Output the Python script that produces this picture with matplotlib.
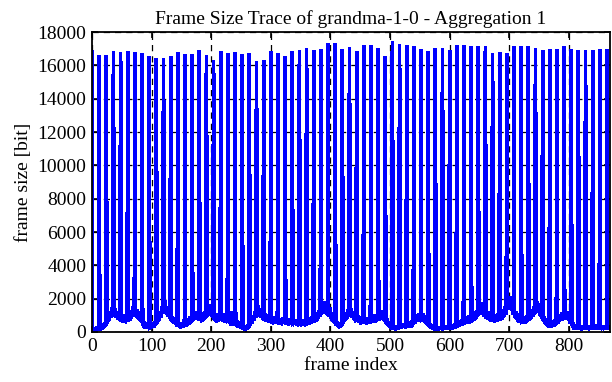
import matplotlib
matplotlib.use("Agg")
import matplotlib.pyplot as plt
import numpy as np

title = "Frame Size Trace of grandma-1-0 - Aggregation 1"
x_label = "frame index"
y_label = "frame size [bit]"
x_ticks = [0, 100, 200, 300, 400, 500, 600, 700, 800]
y_ticks = [0, 2000, 4000, 6000, 8000, 10000, 12000, 14000, 16000, 18000]

# frame sizes in bit, one row per GOP of 12 frames (I B B P B B P B B P B B)
frame_sizes = [
    16820, 150, 130, 260, 140, 120, 240, 150, 160, 280, 170, 190,
    16620, 200, 210, 360, 230, 250, 420, 300, 330, 560, 380, 420,
    16620, 560, 600, 900, 700, 760, 1150, 880, 950, 1450, 1100, 1180,
    16860, 1050, 1000, 1400, 980, 900, 1250, 850, 820, 1180, 800, 760,
    16760, 640, 680, 1000, 620, 700, 1050, 680, 650, 980, 700, 720,
    16860, 700, 740, 1100, 760, 820, 1300, 950, 1000, 1550, 1050, 1100,
    16760, 1000, 950, 1350, 900, 880, 1250, 820, 780, 1100, 700, 650,
    16720, 450, 400, 620, 380, 360, 560, 330, 320, 500, 300, 310,
    16560, 260, 280, 420, 300, 320, 500, 380, 400, 620, 450, 500,
    16420, 550, 600, 950, 700, 780, 1200, 900, 1000, 1550, 1150, 1250,
    16420, 1400, 1350, 1880, 1200, 1100, 1500, 1000, 950, 1300, 880, 850,
    16540, 720, 680, 950, 620, 600, 850, 560, 520, 760, 500, 480,
    16800, 420, 380, 560, 360, 350, 520, 340, 360, 540, 380, 400,
    16680, 420, 460, 680, 500, 540, 800, 580, 620, 900, 640, 680,
    16660, 760, 800, 1150, 820, 860, 1250, 880, 850, 1200, 820, 800,
    16920, 720, 760, 1100, 740, 780, 1150, 800, 840, 1250, 880, 900,
    16620, 950, 1000, 1400, 1050, 1100, 1650, 1150, 1050, 1400, 950, 900,
    16320, 800, 760, 1100, 740, 720, 1050, 700, 720, 1080, 760, 780,
    16860, 700, 740, 1050, 720, 700, 1100, 760, 720, 1000, 680, 700,
    16720, 640, 600, 900, 620, 580, 1250, 640, 600, 860, 560, 540,
    16760, 500, 460, 650, 420, 400, 600, 360, 340, 500, 300, 280,
    16680, 240, 220, 350, 200, 180, 300, 220, 260, 420, 300, 340,
    16720, 420, 480, 750, 560, 620, 950, 700, 780, 1200, 880, 950,
    16260, 1100, 1150, 1600, 1050, 1000, 1400, 950, 900, 1250, 850, 820,
    16280, 780, 760, 1100, 740, 720, 1050, 700, 680, 980, 660, 640,
    16820, 620, 600, 880, 600, 620, 900, 640, 620, 880, 600, 580,
    16720, 580, 560, 820, 560, 540, 800, 580, 600, 860, 600, 580,
    16520, 560, 540, 780, 520, 500, 740, 520, 540, 780, 520, 500,
    16860, 500, 520, 760, 540, 520, 760, 500, 480, 720, 500, 520,
    16920, 480, 460, 700, 480, 500, 720, 480, 460, 680, 480, 500,
    17020, 520, 540, 800, 560, 580, 860, 600, 620, 900, 620, 640,
    16920, 660, 700, 1000, 740, 780, 1150, 850, 900, 1300, 950, 1000,
    16980, 1100, 1200, 1700, 1250, 1300, 1800, 1200, 1150, 1500, 1100, 1050,
    17320, 1050, 1000, 1450, 900, 850, 1150, 760, 700, 950, 620, 580,
    17320, 500, 440, 620, 380, 360, 540, 360, 380, 580, 420, 460,
    16950, 560, 620, 950, 720, 780, 1150, 850, 900, 1350, 950, 1000,
    17070, 1000, 1050, 1400, 950, 900, 1250, 850, 800, 1100, 760, 740,
    16820, 700, 680, 950, 640, 620, 900, 600, 620, 880, 600, 620,
    17220, 600, 580, 850, 580, 560, 820, 580, 600, 880, 620, 640,
    17220, 640, 660, 980, 680, 700, 1020, 700, 720, 1050, 720, 740,
    17000, 780, 800, 1200, 820, 840, 1300, 850, 800, 1150, 760, 700,
    16560, 600, 560, 780, 480, 440, 620, 380, 340, 480, 300, 280,
    17420, 260, 240, 360, 220, 200, 340, 220, 240, 380, 260, 280,
    17280, 300, 320, 480, 320, 340, 520, 360, 340, 500, 340, 360,
    17220, 360, 380, 560, 380, 400, 600, 420, 440, 650, 460, 500,
    17120, 560, 600, 900, 680, 720, 1050, 760, 780, 1100, 740, 760,
    16960, 740, 760, 1100, 740, 700, 1000, 640, 600, 820, 520, 460,
    16820, 400, 360, 500, 300, 280, 420, 260, 240, 360, 220, 210,
    17020, 200, 210, 320, 190, 200, 310, 200, 220, 330, 210, 200,
    17020, 220, 230, 360, 240, 230, 350, 240, 250, 380, 260, 270,
    16920, 260, 270, 400, 280, 290, 440, 300, 320, 480, 340, 360,
    17220, 380, 400, 600, 420, 440, 660, 460, 480, 720, 500, 520,
    17220, 560, 580, 860, 600, 620, 920, 640, 660, 960, 680, 720,
    17160, 680, 700, 1050, 740, 760, 1150, 820, 880, 1300, 950, 1000,
    17120, 1100, 1150, 1650, 1200, 1250, 1750, 1150, 1100, 1500, 1000, 950,
    17160, 900, 880, 1250, 850, 820, 1200, 800, 780, 1100, 760, 740,
    16720, 720, 700, 1050, 700, 720, 1050, 720, 740, 1080, 760, 780,
    16760, 800, 820, 1200, 860, 900, 1350, 960, 1000, 1500, 1100, 1150,
    16720, 1350, 1450, 2050, 1500, 1550, 2150, 1400, 1300, 1750, 1150, 1050,
    17160, 950, 900, 1250, 820, 780, 1100, 720, 700, 1000, 680, 660,
    17120, 620, 640, 920, 640, 620, 900, 640, 660, 960, 700, 740,
    17120, 760, 800, 1200, 860, 900, 1350, 950, 1000, 1500, 1100, 1150,
    17020, 1200, 1250, 1800, 1300, 1250, 1700, 1100, 1000, 1350, 900, 820,
    16880, 720, 660, 900, 580, 540, 780, 500, 460, 680, 440, 420,
    16960, 420, 400, 600, 420, 440, 660, 460, 480, 720, 500, 540,
    16960, 580, 620, 950, 680, 720, 1050, 760, 780, 1150, 800, 820,
    17160, 800, 850, 1250, 900, 880, 1200, 780, 700, 950, 600, 520,
    16960, 460, 400, 560, 340, 300, 440, 280, 260, 380, 240, 230,
    16880, 230, 220, 340, 220, 210, 330, 220, 230, 350, 230, 240,
    16880, 240, 230, 360, 240, 220, 340, 230, 240, 360, 250, 260,
    16920, 260, 250, 380, 270, 260, 400, 280, 270, 400, 280, 270,
    16960, 260, 240, 360, 230, 220, 340, 230, 240, 360, 250, 240,
    16960, 240, 230, 350, 230, 220,
]
frame_index = list(range(len(frame_sizes)))

plt.rcParams['font.family'] = ['Liberation Serif', 'DejaVu Serif']
fig = plt.figure(figsize=(6.12, 3.82), dpi=100)
ax = fig.add_axes([0.1503, 0.1309, 0.8464, 0.7853])

ax.plot(frame_index, frame_sizes, color='#0000ff', lw=2.0, zorder=3,
        antialiased=False, solid_joinstyle='miter')

ax.set_xlim(0, 869)
ax.set_ylim(0, 18000)
ax.set_xticks(x_ticks)
ax.set_yticks(y_ticks)
ax.tick_params(direction='in', top=True, right=True, length=4, width=1.2,
               labelsize=14, pad=4)
ax.grid(True, color='black', linestyle=(0, (5, 4)), linewidth=0.9, zorder=1)
for s in ax.spines.values():
    s.set_linewidth(1.3)
    s.set_zorder(4)

ax.set_title(title, fontsize=14, pad=6)
ax.set_xlabel(x_label, fontsize=14, labelpad=2)
ax.set_ylabel(y_label, fontsize=14, labelpad=4)

fig.savefig("out.png", dpi=100)
